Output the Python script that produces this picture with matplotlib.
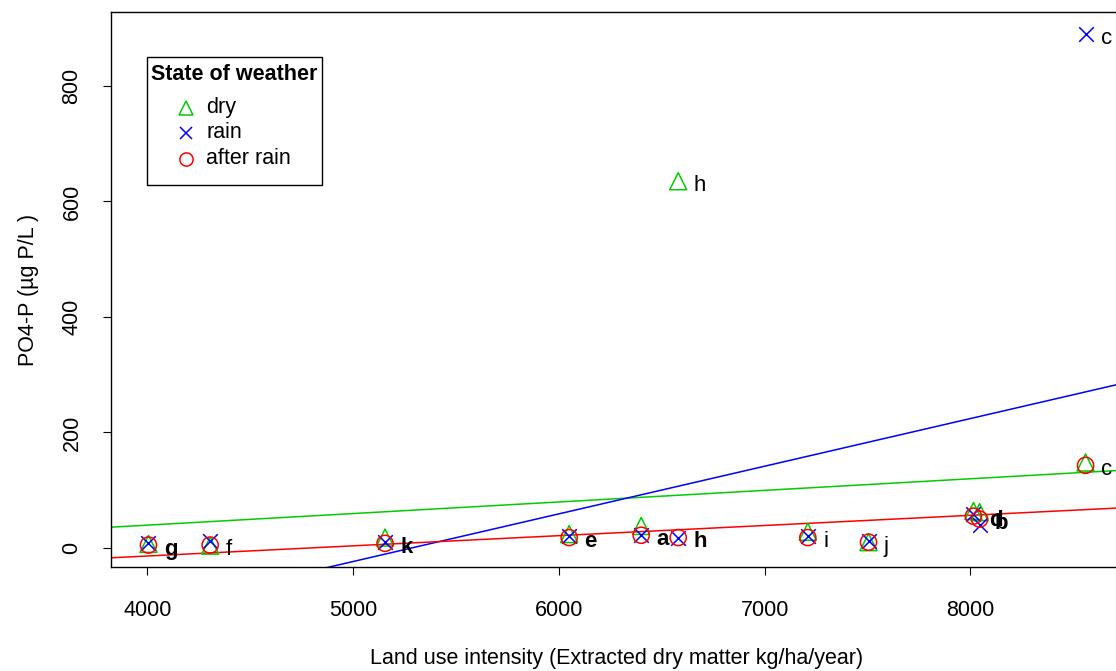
import matplotlib
matplotlib.use('Agg')
from matplotlib import pyplot as plt
from matplotlib.patches import Rectangle

plt.rcParams['font.family'] = ['Liberation Sans', 'DejaVu Sans']

# sites and land use intensity (kg/ha/year)
sites = ['a', 'b', 'c', 'd', 'e', 'f', 'g', 'h', 'i', 'j', 'k']
intensity = [6400, 8045, 8560, 8015, 6050, 4305, 4005, 6580, 7210, 7505, 5155]

# PO4-P (ug P/L) per state of weather
dry = [38, 62, 148, 64, 24, 4, 7, 635, 28, 10, 18]
rain = [22, 40, 890, 58, 20, 12, 8, 18, 20, 12, 10]
after_rain = [22, 50, 143, 55, 18, 5, 5, 18, 18, 10, 8]

# fitted lines (intercept, slope)
fit_dry = (-40.8, 0.02007)
fit_rain = (-436.0, 0.0825)
fit_after = (-84.4, 0.01761)

GREEN = '#00cd00'
BLUE = '#0000ff'
RED = '#ff0000'
FS = 15.5

fig = plt.figure(figsize=(11.16, 6.71), dpi=100)
ax = fig.add_axes([111 / 1116, 1 - 567 / 671, (1123 - 111) / 1116, (567 - 12) / 671])

xlim = (3823, 8742)
ylim = (-33, 928)
ax.set_xlim(xlim)
ax.set_ylim(ylim)

for (b0, b1), col in [(fit_dry, GREEN), (fit_rain, BLUE), (fit_after, RED)]:
    ax.plot(xlim, [b0 + b1 * xlim[0], b0 + b1 * xlim[1]], color=col, lw=1.1, zorder=2)

ax.scatter(intensity, dry, marker='^', s=150, facecolors='none', edgecolors=GREEN, linewidths=1.1, zorder=3)
ax.scatter(intensity, rain, marker='x', s=110, color=BLUE, linewidths=1.1, zorder=3)
ax.scatter(intensity, after_rain, marker='o', s=135, facecolors='none', edgecolors=RED, linewidths=1.1, zorder=3)


def label(s, xv, yv, weight='normal'):
    ax.annotate(s, (xv, yv), xytext=(11, -3), textcoords='offset points',
                ha='left', va='center', fontsize=16, fontweight=weight, zorder=4)


# site names sit next to the after-rain points, plus the two outliers
for s, xv, yv in zip(sites, intensity, after_rain):
    label(s, xv, yv, 'bold' if s in 'abdegkh' else 'normal')
i_h = sites.index('h')
label('h', intensity[i_h], dry[i_h])
i_c = sites.index('c')
label('c', intensity[i_c], rain[i_c])

ax.set_xticks([4000, 5000, 6000, 7000, 8000])
ax.set_yticks([0, 200, 400, 600, 800])
ax.tick_params(direction='out', length=5.5, width=0.8, labelsize=FS)
ax.tick_params(axis='x', pad=18)
ax.tick_params(axis='y', pad=15)
plt.setp(ax.get_yticklabels(), rotation=90, va='center')
for sp in ax.spines.values():
    sp.set_linewidth(1.0)

ax.set_xlabel('Land use intensity (Extracted dry matter kg/ha/year)', fontsize=FS, labelpad=20)
ax.set_ylabel('PO4-P (µg P/L )', fontsize=FS, labelpad=16)

# legend box drawn by hand, positions in figure pixels
def fx(px):
    return px / 1116


def fy(py):
    return 1 - py / 671


fig.patches.append(Rectangle((fx(147), fy(185)), fx(322) - fx(147), fy(57) - fy(185),
                             transform=fig.transFigure, facecolor='white', edgecolor='black', lw=1.0, zorder=5))
fig.text(fx(151), fy(74), 'State of weather', fontsize=FS, fontweight='bold', va='center', ha='left', zorder=6)
keys = [('^', GREEN, 'dry', 108), ('x', BLUE, 'rain', 133), ('o', RED, 'after rain', 159)]
for m, col, txt, py in keys:
    if m == 'x':
        fig.lines.append(plt.Line2D([fx(186)], [fy(py)], marker=m, color=col, ms=8, mew=1.1,
                                    ls='none', transform=fig.transFigure, zorder=6))
    else:
        fig.lines.append(plt.Line2D([fx(186)], [fy(py)], marker=m, mfc='none', mec=col, ms=9.5, mew=1.1,
                                    ls='none', transform=fig.transFigure, zorder=6))
    fig.text(fx(206), fy(py), txt, fontsize=FS, va='center', ha='left', zorder=6)

fig.savefig('out.png', dpi=100)
